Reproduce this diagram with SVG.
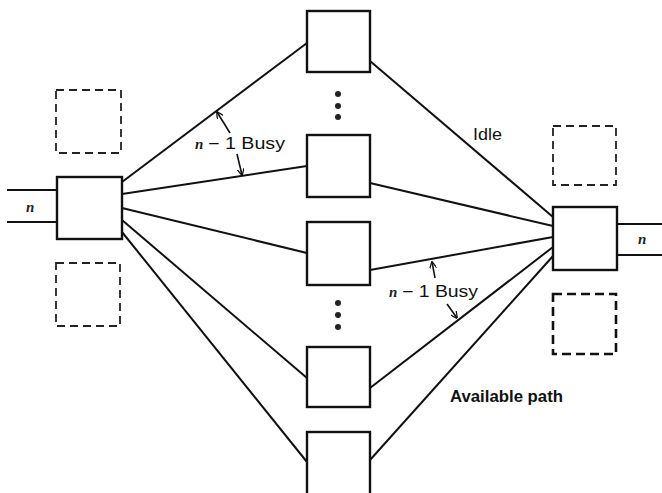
<svg xmlns="http://www.w3.org/2000/svg" width="662" height="493" viewBox="0 0 662 493">
<defs>
<style>
.box{fill:#fff;stroke:#111;stroke-width:2.4}
.dash{fill:none;stroke:#222;stroke-width:1.8;stroke-dasharray:8 5}
.dash2{fill:none;stroke:#111;stroke-width:2.6;stroke-dasharray:9 5}
.ln{stroke:#111;stroke-width:2;fill:none}
.ar{stroke:#111;stroke-width:1.6;fill:none}
.t{font-family:"Liberation Sans",Arial,sans-serif;font-size:16px;fill:#111}
.it{font-family:"Liberation Serif","Times New Roman",serif;font-style:italic;font-weight:bold;font-size:15px;fill:#222}
.dot{fill:#222}
</style>
<marker id="ah" viewBox="0 0 10 10" refX="9" refY="5" markerWidth="7" markerHeight="7" orient="auto-start-reverse" markerUnits="userSpaceOnUse">
<path d="M0,0 L10,5 L0,10" fill="none" stroke="#111" stroke-width="1.8"/>
</marker>
</defs>
<rect width="662" height="493" fill="#fff"/>
<g id="connectors">
<line class="ln" x1="7" y1="190" x2="57" y2="190"/>
<line class="ln" x1="7" y1="222" x2="57" y2="222"/>
<line class="ln" x1="617" y1="224" x2="662" y2="224"/>
<line class="ln" x1="617" y1="255" x2="662" y2="255"/>
<line class="ln" x1="122" y1="182" x2="307" y2="43"/>
<line class="ln" x1="122" y1="194" x2="307" y2="166"/>
<line class="ln" x1="122" y1="208" x2="307" y2="253"/>
<line class="ln" x1="122" y1="220" x2="307" y2="378"/>
<line class="ln" x1="122" y1="232" x2="307" y2="462"/>
<line class="ln" x1="370" y1="61" x2="553" y2="217"/>
<line class="ln" x1="370" y1="183" x2="553" y2="226"/>
<line class="ln" x1="370" y1="270" x2="553" y2="237"/>
<line class="ln" x1="370" y1="388" x2="553" y2="247"/>
<line class="ln" x1="370" y1="460" x2="553" y2="256"/>
<line class="ar" x1="230" y1="133" x2="217" y2="112" marker-end="url(#ah)"/>
<line class="ar" x1="237" y1="154" x2="242" y2="175" marker-end="url(#ah)"/>
<line class="ar" x1="435" y1="278" x2="432" y2="262" marker-end="url(#ah)"/>
<line class="ar" x1="447" y1="304" x2="457" y2="318" marker-end="url(#ah)"/>
</g>
<g id="in-switch"><rect class="box" x="57" y="177" width="65" height="62"/></g>
<g id="in-dash-top"><rect class="dash" x="56" y="90" width="65" height="63"/></g>
<g id="in-dash-bottom"><rect class="dash" x="56" y="263" width="64" height="63"/></g>
<g id="mid-1"><rect class="box" x="307" y="11" width="63" height="61"/></g>
<g id="mid-2"><rect class="box" x="307" y="135" width="63" height="62"/></g>
<g id="mid-3"><rect class="box" x="307" y="222" width="63" height="63"/></g>
<g id="mid-4"><rect class="box" x="307" y="347" width="63" height="60"/></g>
<g id="mid-5"><rect class="box" x="307" y="432" width="63" height="70"/></g>
<g id="dots-top"><circle class="dot" cx="338" cy="94" r="3"/><circle class="dot" cx="338" cy="106" r="3"/><circle class="dot" cx="338" cy="117" r="3"/></g>
<g id="dots-bottom"><circle class="dot" cx="338" cy="303" r="3"/><circle class="dot" cx="338" cy="315" r="3"/><circle class="dot" cx="338" cy="327" r="3"/></g>
<g id="out-switch"><rect class="box" x="553" y="207" width="64" height="63"/></g>
<g id="out-dash-top"><rect class="dash" x="553" y="126" width="63" height="59"/></g>
<g id="out-dash-bottom"><rect class="dash2" x="553" y="294" width="63" height="60"/></g>
<g id="labels">
<text class="it" x="26" y="212">n</text>
<text class="it" x="638" y="244">n</text>
<text class="it" x="195" y="149">n</text>
<text class="t" x="208" y="149" textLength="77" lengthAdjust="spacingAndGlyphs">− 1 Busy</text>
<text class="it" x="389" y="297">n</text>
<text class="t" x="402" y="297" textLength="76" lengthAdjust="spacingAndGlyphs">− 1 Busy</text>
<text class="t" x="473" y="140" textLength="29" lengthAdjust="spacingAndGlyphs">Idle</text>
<text class="t" x="450" y="402" font-weight="bold" textLength="113" lengthAdjust="spacingAndGlyphs">Available path</text>
</g>
</svg>
